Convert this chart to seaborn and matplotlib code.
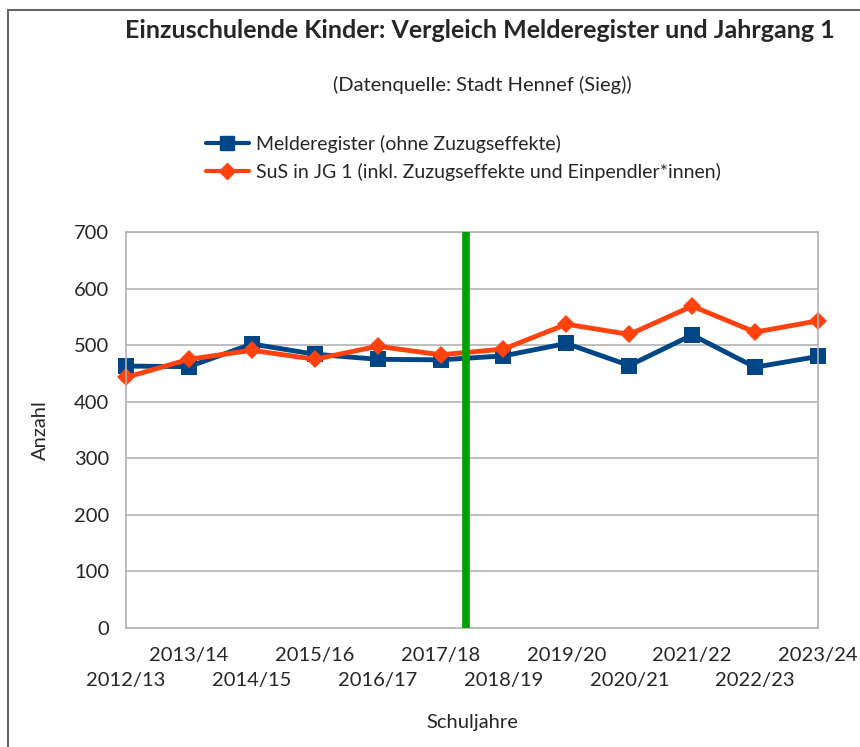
import numpy as np
import pandas as pd
import matplotlib.pyplot as plt
import seaborn as sns
from matplotlib.patches import Rectangle
from matplotlib.lines import Line2D

years = ["2012/13", "2013/14", "2014/15", "2015/16", "2016/17", "2017/18",
         "2018/19", "2019/20", "2020/21", "2021/22", "2022/23", "2023/24"]
melderegister = [463, 462, 502, 484, 475, 474, 481, 503, 464, 518, 461, 480]
sus_jg1 = [443, 475, 491, 475, 498, 483, 493, 537, 519, 569, 523, 543]
series_names = ["Melderegister (ohne Zuzugseffekte)",
                "SuS in JG 1 (inkl. Zuzugseffekte und Einpendler*innen)"]
marker_pos = 5.41  # green separator between 2017/18 and 2018/19

df = pd.DataFrame({
    "idx": list(range(len(years))) * 2,
    "Anzahl": melderegister + sus_jg1,
    "Reihe": [series_names[0]] * len(years) + [series_names[1]] * len(years),
})

sns.set_style("white")
plt.rcParams["font.family"] = ["Lato", "DejaVu Sans"]

fig = plt.figure(figsize=(8.6, 7.47), dpi=100)
ax = fig.add_axes([126 / 860, 1 - 628 / 747, (818 - 126) / 860, (628 - 232) / 747])

palette = {series_names[0]: "#004586", series_names[1]: "#ff420e"}
sns.lineplot(data=df, x="idx", y="Anzahl", hue="Reihe", style="Reihe",
             palette=palette, markers={series_names[0]: "s", series_names[1]: "D"},
             dashes=False, linewidth=3.5, markersize=11, markeredgewidth=0,
             ax=ax, legend=False)
for line in ax.lines:
    line.set_clip_on(False)
    if line.get_marker() == "D":
        line.set_markersize(9)

ax.axvline(marker_pos, color="#00a000", linewidth=5.5, zorder=5)

ax.set_xlim(0, len(years) - 1)
ax.set_ylim(0, 700)
ax.set_yticks(range(0, 701, 100))
ax.grid(axis="y", color="#b3b3b3", linewidth=1.2)
for s in ax.spines.values():
    s.set_color("#b3b3b3")
    s.set_linewidth(1.2)

# staggered labels: even years on lower row (major), odd years on upper row (minor)
even = list(range(0, len(years), 2))
odd = list(range(1, len(years), 2))
ax.set_xticks(even)
ax.set_xticklabels([years[i] for i in even], fontsize=14.5)
ax.set_xticks(odd, minor=True)
ax.set_xticklabels([years[i] for i in odd], minor=True, fontsize=14.5)
ax.tick_params(axis="x", which="major", length=8, color="#b3b3b3", width=1.2, pad=24)
ax.tick_params(axis="x", which="minor", length=8, color="#b3b3b3", width=1.2, pad=6)
ax.tick_params(axis="y", length=7, color="#b3b3b3", width=1.2, pad=5, labelsize=14.5)

ax.set_xlabel("Schuljahre", fontsize=14.5, labelpad=18)
ax.set_ylabel("Anzahl", fontsize=14.5, labelpad=18)

fig.text(480 / 860, 1 - 30 / 747, "Einzuschulende Kinder: Vergleich Melderegister und Jahrgang 1",
         ha="center", va="center", fontsize=18, fontweight="bold")
fig.text(482 / 860, 1 - 85 / 747, "(Datenquelle: Stadt Hennef (Sieg))",
         ha="center", va="center", fontsize=14.5)

handles = [Line2D([], [], color="#004586", marker="s", linewidth=3, markersize=10),
           Line2D([], [], color="#ff420e", marker="D", linewidth=3, markersize=8)]
fig.legend(handles, series_names, loc="upper left", bbox_to_anchor=(196 / 860, 1 - 125 / 747),
           frameon=False, fontsize=14, handlelength=2.2, handletextpad=0.4,
           labelspacing=0.5, borderpad=0)

fig.patches.append(Rectangle((8 / 860, -0.05), 1.1, 1 - 10 / 747 + 0.05,
                             transform=fig.transFigure, fill=False,
                             edgecolor="#666666", linewidth=1.5))

fig.savefig("out.png", dpi=100)
